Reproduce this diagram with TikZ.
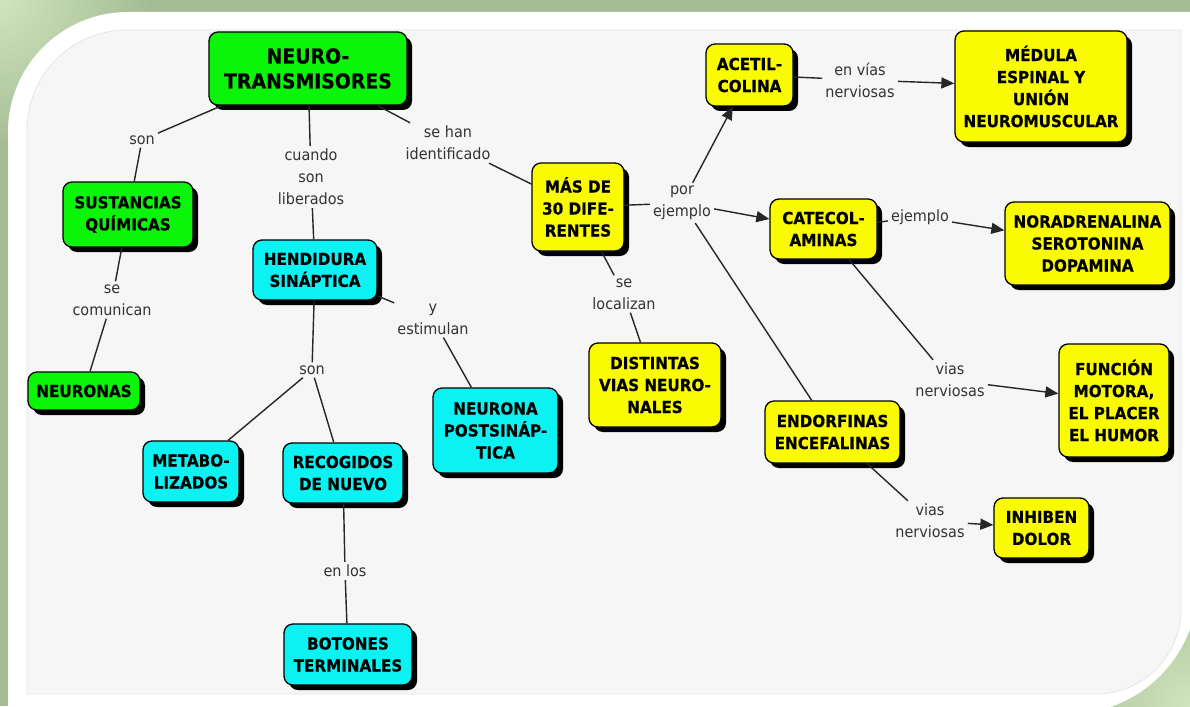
\documentclass[tikz,border=0pt]{standalone}
\usepackage{fontspec}
\setmainfont{DejaVu Sans}
\newfontfamily\boxfont{DejaVu Sans}[FakeStretch=0.92, BoldFeatures={FakeBold=0.5}]
\newfontfamily\lblfont{DejaVu Sans}[FakeStretch=0.93]
\usetikzlibrary{arrows.meta,shadows}

\definecolor{bggreen}{RGB}{164,188,148}
\definecolor{bglight}{RGB}{208,228,190}
\definecolor{panelgray}{RGB}{246,246,246}
\definecolor{cgreen}{RGB}{10,245,10}
\definecolor{ccyan}{RGB}{10,242,242}
\definecolor{cyellow}{RGB}{250,250,0}

\begin{document}
\begin{tikzpicture}[x=1pt,y=-1pt,
  concept/.style = {draw=black, line width=1.3pt, rounded corners=9pt, align=center,
    font=\boxfont\bfseries\fontsize{16.5}{22}\selectfont, inner sep=2pt,
    drop shadow={shadow xshift=5pt, shadow yshift=-5pt, fill=black, opacity=1}},
  verde/.style = {concept, fill=cgreen},
  cian/.style = {concept, fill=ccyan},
  amarillo/.style = {concept, fill=cyellow},
  lbl/.style = {font=\lblfont\fontsize{15.5}{22}\selectfont, text=black!80, align=center, inner sep=3pt},
  link/.style = {draw=black!85, line width=1.4pt},
  arr/.style = {link, -{Triangle[length=13pt,width=11pt]}}]

% fondo
\useasboundingbox (0,0) rectangle (1190,706);
\fill[bggreen] (0,0) rectangle (1190,706);
\shade[inner color=bglight, outer color=bggreen] (0,0) circle (150);
\shade[inner color=bglight, outer color=bggreen] (1190,706) circle (150);
\fill[white] (8,714) -- (8,132) arc[start angle=180, end angle=270, radius=120]
  -- (1198,12) -- (1198,584) arc[start angle=0, end angle=90, radius=130] -- cycle;
\filldraw[fill=panelgray, draw=black!10, line width=0.8pt] (27,694) -- (27,130)
  arc[start angle=180, end angle=270, radius=100] -- (1181,30) -- (1181,609)
  arc[start angle=0, end angle=90, radius=85] -- cycle;

% conceptos
\node[verde, minimum width=198pt, minimum height=73pt, font=\boxfont\bfseries\fontsize{20.5}{25}\selectfont]
  (neuro) at (308,68.5) {NEURO-\\TRANSMISORES};
\node[verde, minimum width=130pt, minimum height=65pt] (sust) at (128,214.5) {SUSTANCIAS\\QUÍMICAS};
\node[verde, minimum width=112pt, minimum height=38pt] (neuronas) at (84,391) {NEURONAS};
\node[cian, minimum width=124pt, minimum height=60pt] (hend) at (315,270) {HENDIDURA\\SINÁPTICA};
\node[cian, minimum width=96pt, minimum height=61pt] (metab) at (191,471.5) {METABO-\\LIZADOS};
\node[cian, minimum width=120pt, minimum height=60pt] (recog) at (343,473) {RECOGIDOS\\DE NUEVO};
\node[cian, minimum width=128pt, minimum height=61pt] (botones) at (348,654.5) {BOTONES\\TERMINALES};
\node[cian, minimum width=125pt, minimum height=85pt] (post) at (495.5,430.5) {NEURONA\\POSTSINÁP-\\TICA};
\node[amarillo, minimum width=92pt, minimum height=88pt] (mas) at (578,207) {MÁS DE\\30 DIFE-\\RENTES};
\node[amarillo, minimum width=132pt, minimum height=84pt] (distintas) at (655,385) {DISTINTAS\\VIAS NEURO-\\NALES};
\node[amarillo, minimum width=87pt, minimum height=62pt] (acetil) at (749.5,75) {ACETIL-\\COLINA};
\node[amarillo, minimum width=172pt, minimum height=111pt] (medula) at (1041,86.5) {MÉDULA\\ESPINAL Y\\UNIÓN\\NEUROMUSCULAR};
\node[amarillo, minimum width=107pt, minimum height=60pt] (catecol) at (823.5,229) {CATECOL-\\AMINAS};
\node[amarillo, minimum width=165pt, minimum height=83pt] (noradr) at (1087.5,243.5) {NORADRENALINA\\SEROTONINA\\DOPAMINA};
\node[amarillo, minimum width=110pt, minimum height=113pt] (funcion) at (1114,400.5) {FUNCIÓN\\MOTORA,\\EL PLACER\\EL HUMOR};
\node[amarillo, minimum width=135pt, minimum height=62pt] (endorf) at (832.5,432) {ENDORFINAS\\ENCEFALINAS};
\node[amarillo, minimum width=95pt, minimum height=60pt] (inhiben) at (1041.5,528) {INHIBEN\\DOLOR};

% frases de enlace
\node[lbl] (son1) at (142,140) {son};
\node[lbl] (cuando) at (311,177) {cuando\\son\\liberados};
\node[lbl] (sehan) at (448,143) {se han\\identificado};
\node[lbl] (secom) at (112,300) {se\\comunican};
\node[lbl] (son2) at (312,370) {son};
\node[lbl] (yest) at (433,319) {y\\estimulan};
\node[lbl] (enlos) at (345,571) {en los};
\node[lbl] (seloc) at (624,294) {se\\localizan};
\node[lbl] (por) at (682,203) {por\\ejemplo};
\node[lbl] (envias) at (860,80) {en vías\\nerviosas};
\node[lbl] (ejem) at (920,217) {ejemplo};
\node[lbl] (vias1) at (950,380) {vias\\nerviosas};
\node[lbl] (vias2) at (930,521) {vias\\nerviosas};

% conectores
\draw[link] (neuro) -- (son1);   \draw[link] (son1) -- (sust);
\draw[link] (sust) -- (secom);   \draw[link] (secom) -- (neuronas);
\draw[link] (neuro) -- (cuando); \draw[link] (cuando) -- (hend);
\draw[link] (hend) -- (son2);    \draw[link] (son2) -- (metab);
\draw[link] (son2) -- (recog);   \draw[link] (recog) -- (enlos);
\draw[link] (enlos) -- (botones);
\draw[link] (hend) -- (yest);    \draw[link] (yest) -- (post);
\draw[link] (neuro) -- (sehan);  \draw[link] (sehan) -- (mas);
\draw[link] (mas) -- (seloc);    \draw[link] (seloc) -- (distintas);
\draw[link] (mas) -- (por);
\draw[arr] (por) -- (acetil);
\draw[arr] (por) -- (catecol);
\draw[link] (por) -- (endorf);
\draw[link] (acetil) -- (envias); \draw[arr] (envias) -- (medula);
\draw[link] (catecol) -- (ejem);  \draw[arr] (ejem) -- (noradr);
\draw[link] (catecol) -- (vias1); \draw[arr] (vias1) -- (funcion);
\draw[link] (endorf) -- (vias2);  \draw[arr] (vias2) -- (inhiben);
\end{tikzpicture}
\end{document}
